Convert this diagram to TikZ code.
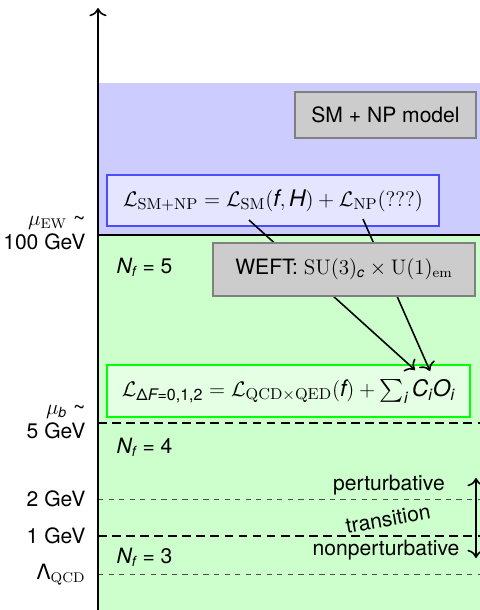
\documentclass[tikz,border=0pt]{standalone}
\usepackage[no-math]{fontspec}
\setmainfont{TeX Gyre Heros}
\usepackage{amsmath, amssymb}
\usepackage{tikz}
\usetikzlibrary{positioning, arrows.meta}

\newcommand{\sv}[1]{\text{\itshape #1}}

\begin{document}
\begin{tikzpicture}[x=0.02cm, y=-0.02cm, font=\fontsize{12}{13.5}\selectfont, line width=0.9pt, >={To[scale=1.3]}]
    \useasboundingbox (0, 0) rectangle (480, 610);
    \fill[blue!20] (98, 83) rectangle (480, 235);
    \fill[green!20] (98, 235) rectangle (480, 610);

    \draw (98, 235) -- (480, 235);
    \draw[dash pattern=on 5pt off 3pt] (98, 423) -- (480, 423);
    \draw[dash pattern=on 5pt off 3pt] (98, 536) -- (480, 536);
    \draw[black!70, thin, dashed] (98, 499) -- (480, 499);
    \draw[black!70, thin, dashed] (98, 574) -- (480, 574);
    \draw[->] (98, 610) -- (98, 8);

    \node[draw=black!50, fill=black!20, minimum width=3.62cm, minimum height=0.92cm] at (385.5, 115) (model) {SM + NP model};
    \node[draw=blue!70, fill=blue!10, minimum width=6.64cm, minimum height=1.02cm, font=\fontsize{13}{14}\selectfont] at (273, 200.5) (lsm) {$\mathcal{L}_{\mathrm{SM+NP}} = \mathcal{L}_{\mathrm{SM}}(\sv{f}, \sv{H}) + \mathcal{L}_{\mathrm{NP}}(???)$};
    \node[draw=green, fill=green!10, minimum width=7.26cm, minimum height=1.04cm, font=\fontsize{13}{14}\selectfont] at (288.5, 391) (lqcd) {$\mathcal{L}_{\text{Δ\itshape F\upshape =0,1,2}} = \mathcal{L}_{\mathrm{QCD\times QED}}(\sv{f}) + \textstyle\sum_{\sv{i}} \sv{C}_{\sv{i}}\sv{O}_{\sv{i}}$};

    \coordinate (s1) at (249, 220);
    \coordinate (s2) at (363, 219);
    \coordinate (e1) at (415, 370);
    \coordinate (e2) at (430, 371);
    \draw[->] (s1) -- (e1);
    \draw[->] (s2) -- (e2);

    \node[draw=black!50, fill=black!20, minimum width=5.24cm, minimum height=1.06cm] at (344, 269.5) (weft) {WEFT: $\mathrm{SU}(3)_{\sv{c}} \times \mathrm{U}(1)_{\mathrm{em}}$};

    \node[anchor=east, align=right] at (92, 233) (muew) {$\mu_{\mathrm{EW}}$ \textasciitilde\\100 GeV};
    \node[anchor=east, align=right] at (92, 422) (mub) {$\mu_{\sv{b}}$ \textasciitilde\\5 GeV};
    \node[anchor=east] at (92, 499) (two) {2 GeV};
    \node[anchor=east] at (92, 536) (one) {1 GeV};
    \node[anchor=east] at (92, 575) (lam) {Λ$_{\mathrm{QCD}}$};

    \node[anchor=west] at (110, 267) (nf5) {\sv{N}$_{\sv{f}}$ = 5};
    \node[anchor=west] at (110, 447) (nf4) {\sv{N}$_{\sv{f}}$ = 4};
    \node[anchor=west] at (110, 557) (nf3) {\sv{N}$_{\sv{f}}$ = 3};

    \node at (389, 485) (pert) {perturbative};
    \node[rotate=10] at (388, 519) (trans) {transition};
    \node at (386, 550) (nonpert) {nonperturbative};

    \coordinate (r1) at (476, 478);
    \coordinate (r2) at (476, 558);
    \draw[<->] (r1) -- (r2);
\end{tikzpicture}
\end{document}
